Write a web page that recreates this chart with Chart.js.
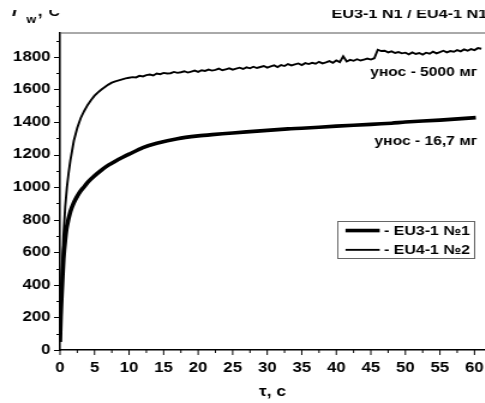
<!DOCTYPE html>
<html>
<head>
<meta charset="utf-8">
<script src="https://cdn.jsdelivr.net/npm/chart.js@4.4.1/dist/chart.umd.min.js"></script>
<style>
  html, body { margin: 0; padding: 0; background: #fff; overflow: hidden; }
  #wrap { position: absolute; left: 0; top: 10px; width: 485px; height: 393px; overflow: hidden; }
  /* исходный рисунок растянут по горизонтали */
  #chart { transform: scaleX(1.2); transform-origin: 0 0; }
</style>
</head>
<body>
<div id="wrap"><canvas id="chart" width="404" height="393"></canvas></div>
<script>
// ---- данные ----
const seriesNames = ['- EU3-1 №1', '- EU4-1 №2'];
const notes = ['унос - 5000 мг', 'унос - 16,7 мг'];
const headerText = 'EU3-1 N1 / EU4-1 N1';

// EU3-1 №1 (толстая линия)
const t1 = [0, 0.1, 0.25, 0.5, 0.75, 1, 1.5, 2, 2.5, 3, 3.5, 4, 5, 6, 7, 8, 9, 10, 12, 14, 17, 20, 22, 25, 29, 33, 35, 40, 45, 48, 50, 55, 60.2];
const T1 = [50, 200, 350, 560, 680, 760, 850, 905, 945, 978, 1003, 1030, 1070, 1105, 1135, 1160, 1182, 1203, 1243, 1270, 1298, 1315, 1323, 1333, 1346, 1358, 1362, 1375, 1386, 1393, 1400, 1412, 1427];

// EU4-1 №2 (тонкая линия, с шумом)
const t2 = [0, 0.25, 0.5, 0.75, 1, 1.25, 1.5, 2, 2.5, 3, 3.5, 4, 4.5, 5, 5.5, 6, 6.5, 7, 7.5, 8, 8.5, 9, 9.5, 10,
  10.5, 11, 11.5, 12, 12.5, 13, 13.5, 14, 14.5, 15, 15.5, 16, 16.5, 17, 17.5, 18, 18.5, 19, 19.5, 20,
  20.5, 21, 21.5, 22, 22.5, 23, 23.5, 24, 24.5, 25, 25.5, 26, 26.5, 27, 27.5, 28, 28.5, 29, 29.5, 30,
  30.5, 31, 31.5, 32, 32.5, 33, 33.5, 34, 34.5, 35, 35.5, 36, 36.5, 37, 37.5, 38, 38.5, 39, 39.5, 40,
  40.5, 41, 41.5, 42, 42.5, 43, 43.5, 44, 44.5, 45, 45.5, 46, 46.5, 47, 47.5, 48, 48.5, 49, 49.5, 50,
  50.5, 51, 51.5, 52, 52.5, 53, 53.5, 54, 54.5, 55, 55.5, 56, 56.5, 57, 57.5, 58, 58.5, 59, 59.5, 60,
  60.5, 61];
const T2 = [50, 420, 700, 880, 1000, 1090, 1165, 1285, 1365, 1425, 1468, 1505, 1535, 1562, 1582, 1600, 1615, 1630, 1642, 1650, 1656, 1662, 1668, 1672,
  1676, 1674, 1684, 1680, 1688, 1692, 1686, 1698, 1694, 1702, 1698, 1700, 1708, 1702, 1706, 1712, 1704, 1710, 1716, 1708,
  1718, 1714, 1722, 1716, 1720, 1728, 1718, 1724, 1730, 1722, 1728, 1734, 1726, 1736, 1730, 1740, 1732, 1738, 1744, 1734,
  1742, 1748, 1738, 1750, 1744, 1756, 1748, 1754, 1760, 1750, 1762, 1756, 1764, 1758, 1770, 1760, 1766, 1774, 1764, 1778,
  1768, 1804, 1772, 1782, 1776, 1786, 1778, 1784, 1790, 1784, 1792, 1844, 1836, 1838, 1828, 1834, 1824, 1830, 1822, 1826,
  1816, 1828, 1818, 1824, 1814, 1826, 1820, 1832, 1822, 1830, 1838, 1828, 1836, 1832, 1842, 1834, 1846, 1838, 1848, 1842,
  1854, 1850];

const xTicks = [0, 5, 10, 15, 20, 25, 30, 35, 40, 45, 50, 55, 60];
const yTicks = [0, 200, 400, 600, 800, 1000, 1200, 1400, 1600, 1800];

const FONT = 'Liberation Sans, Arial, sans-serif';

// ======== Доп. отрисовка: рамка, мелкие риски, подписи, легенда ========
const extras = {
  id: 'extras',
  afterDraw(chart) {
    const ctx = chart.ctx;
    const xs = chart.scales.x, ys = chart.scales.y;
    const area = chart.chartArea;
    ctx.save();

    // верхняя линия рамки
    ctx.strokeStyle = '#555';
    ctx.lineWidth = 1;
    ctx.beginPath();
    ctx.moveTo(area.left, area.top + 0.5);
    ctx.lineTo(area.right, area.top + 0.5);
    ctx.stroke();

    // риски
    ctx.strokeStyle = '#000';
    ctx.lineWidth = 1.2;
    ctx.beginPath();
    for (let v = 0; v <= 1900; v += 100) {
      const py = Math.round(ys.getPixelForValue(v)) + 0.5;
      const len = v % 200 === 0 ? 5 : 3;
      ctx.moveTo(area.left - len, py);
      ctx.lineTo(area.left, py);
    }
    ctx.stroke();
    ctx.lineWidth = 1;
    ctx.beginPath();
    for (let v = 0; v <= 60; v += 2.5) {
      const px = xs.getPixelForValue(v);
      const len = v % 5 === 0 ? 5 : 3;
      ctx.moveTo(px, area.bottom);
      ctx.lineTo(px, area.bottom + len);
    }
    ctx.stroke();

    ctx.fillStyle = '#000';

    // заголовок сверху справа (обрезан краем)
    ctx.font = 'bold 13.5px ' + FONT;
    ctx.textAlign = 'right';
    ctx.textBaseline = 'alphabetic';
    ctx.fillText(headerText, 406, 8.3);

    // подпись оси Y: T_w, °C
    ctx.textAlign = 'left';
    ctx.font = 'italic bold 15px ' + FONT;
    ctx.fillText('T', 7.5, 6);
    ctx.font = 'bold 10.5px ' + FONT;
    ctx.fillText('w', 22, 12.5);
    ctx.font = 'bold 14px ' + FONT;
    ctx.fillText(',', 31.5, 6);
    ctx.font = 'bold 8px ' + FONT;
    ctx.fillText('o', 36, -3);
    ctx.font = 'bold 13px ' + FONT;
    ctx.fillText('C', 40.5, 5.5);

    // подписи кривых
    ctx.font = 'bold 13px ' + FONT;
    ctx.textAlign = 'right';
    ctx.textBaseline = 'middle';
    ctx.fillText(notes[0], xs.getPixelForValue(60.4), ys.getPixelForValue(1707));
    ctx.fillText(notes[1], xs.getPixelForValue(60.4), ys.getPixelForValue(1279));

    // легенда
    const bx = xs.getPixelForValue(40.2), bx2 = xs.getPixelForValue(60.0);
    const by = ys.getPixelForValue(792), by2 = ys.getPixelForValue(565);
    ctx.strokeStyle = '#666';
    ctx.lineWidth = 1;
    ctx.strokeRect(Math.round(bx) + 0.5, Math.round(by) + 0.5, Math.round(bx2 - bx), Math.round(by2 - by));
    ctx.font = 'bold 13.3px ' + FONT;
    ctx.textAlign = 'left';
    chart.data.datasets.forEach((ds, i) => {
      const ry = by + 9.5 + i * 19.3;
      ctx.strokeStyle = ds.borderColor;
      ctx.lineWidth = ds.borderWidth;
      ctx.beginPath();
      ctx.moveTo(bx + 6.5, ry);
      ctx.lineTo(bx + 35, ry);
      ctx.stroke();
      ctx.fillText(ds.label, bx + 38.5, ry + 0.5);
    });

    ctx.restore();
  }
};

new Chart(document.getElementById('chart'), {
  type: 'line',
  data: {
    datasets: [
      {
        label: seriesNames[0],
        data: t1.map((t, i) => ({ x: t, y: T1[i] })),
        borderColor: '#000',
        borderWidth: 3.6,
        pointRadius: 0,
        tension: 0.2
      },
      {
        label: seriesNames[1],
        data: t2.map((t, i) => ({ x: t, y: T2[i] })),
        borderColor: '#000',
        borderWidth: 1.9,
        pointRadius: 0,
        tension: 0
      }
    ]
  },
  options: {
    responsive: false,
    animation: false,
    layout: { padding: { top: 22.5, left: 0, right: 0, bottom: 0 } },
    plugins: { legend: { display: false }, tooltip: { enabled: false } },
    scales: {
      x: {
        type: 'linear',
        min: 0,
        max: 61.5,
        afterBuildTicks: s => { s.ticks = xTicks.map(v => ({ value: v })); },
        afterFit: s => { s.height = 53; s.paddingLeft = 0; s.paddingRight = 0; },
        ticks: { color: '#000', font: { family: FONT, size: 14, weight: 'bold' }, padding: 9.5, maxRotation: 0, callback: v => String(v) },
        grid: { display: false, drawTicks: false },
        border: { display: true, color: '#000', width: 1.5 },
        title: { display: true, text: 'τ, c', color: '#000', font: { family: FONT, size: 14.5, weight: 'bold' }, padding: { top: 0, bottom: 2 } }
      },
      y: {
        min: 0,
        max: 1950,
        afterBuildTicks: s => { s.ticks = yTicks.map(v => ({ value: v })); },
        afterFit: s => { s.width = 50; s.paddingTop = 0; s.paddingBottom = 0; },
        ticks: { color: '#000', font: { family: FONT, size: 14, weight: 'bold' }, padding: 8, callback: v => String(v) },
        grid: { display: false, drawTicks: false },
        border: { display: true, color: '#000', width: 1.6 }
      }
    }
  },
  plugins: [extras]
});
</script>
</body>
</html>
